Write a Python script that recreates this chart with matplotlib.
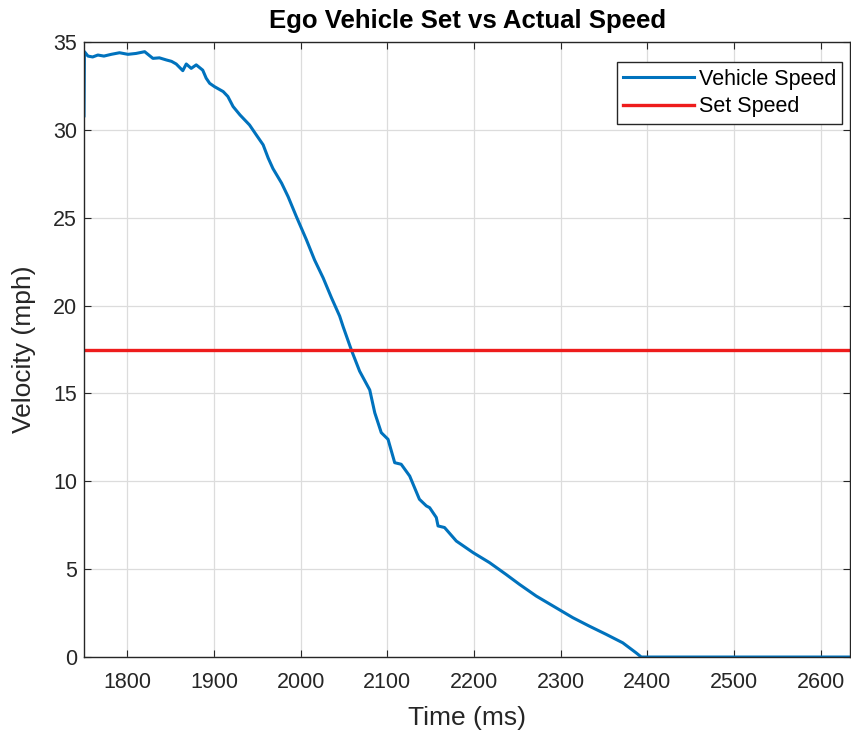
import matplotlib.pyplot as plt

plt.rcParams['font.family'] = ['Liberation Sans', 'DejaVu Sans']

# time (ms) and vehicle speed (mph)
time_ms = [1750, 1750.5, 1754.6, 1760, 1766, 1773, 1781.5, 1791, 1800.7, 1810,
           1820, 1829.5, 1837, 1845, 1851, 1856.4, 1864, 1868, 1873.7, 1879.5,
           1887, 1891, 1895, 1900.6, 1910.6, 1916, 1922, 1930, 1941, 1949,
           1956.7, 1962.5, 1968, 1978, 1985.5, 1995, 2006.6, 2016, 2026, 2035.5,
           2045, 2049, 2058.6, 2068, 2079.7, 2085.5, 2093, 2100.8, 2108.5, 2116,
           2125.8, 2137, 2145, 2148.8, 2156.5, 2158.5, 2166, 2179.6, 2199, 2218,
           2237, 2252.6, 2271.8, 2294.8, 2314, 2333, 2352.5, 2371.6, 2387, 2393,
           2450, 2500, 2550, 2600, 2634]
speed_mph = [30.8, 34.45, 34.2, 34.15, 34.26, 34.2, 34.3, 34.39, 34.3, 34.35,
             34.45, 34.07, 34.1, 33.98, 33.9, 33.75, 33.37, 33.75, 33.5, 33.7,
             33.4, 32.94, 32.65, 32.46, 32.18, 31.9, 31.33, 30.85, 30.28, 29.7,
             29.15, 28.4, 27.8, 26.97, 26.2, 25.07, 23.75, 22.6, 21.57, 20.45,
             19.4, 18.8, 17.46, 16.27, 15.2, 13.9, 12.77, 12.39, 11.06, 10.97,
             10.3, 8.98, 8.6, 8.5, 7.94, 7.46, 7.37, 6.6, 5.94, 5.37,
             4.7, 4.13, 3.47, 2.8, 2.24, 1.76, 1.29, 0.81, 0.24, 0.0,
             0.0, 0.0, 0.0, 0.0, 0.0]
set_speed = 17.5

x_ticks = [1800, 1900, 2000, 2100, 2200, 2300, 2400, 2500, 2600]
y_ticks = [0, 5, 10, 15, 20, 25, 30, 35]

fig = plt.figure(figsize=(8.51, 7.36), dpi=100)
ax = fig.add_axes([0.0987, 0.1073, 0.9003, 0.8356])

ax.plot(time_ms, speed_mph, color='#0072BD', linewidth=2.2, label='Vehicle Speed')
ax.axhline(set_speed, color='#EE1C1C', linewidth=2.4, label='Set Speed')

ax.set_xlim(1750, 2634)
ax.set_ylim(0, 35)
ax.set_xticks(x_ticks)
ax.set_yticks(y_ticks)

ax.grid(True, color='#DCDCDC', linewidth=0.9)
ax.set_axisbelow(True)
ax.tick_params(direction='in', top=True, right=True, length=5,
               labelsize=15.5, colors='#262626')
ax.tick_params(axis='x', pad=11)
ax.tick_params(axis='y', pad=5)
for s in ax.spines.values():
    s.set_color('#262626')
    s.set_linewidth(1.0)

ax.set_title('Ego Vehicle Set vs Actual Speed', fontsize=18.5, weight='bold', pad=10)
ax.set_xlabel('Time (ms)', fontsize=19, color='#262626')
ax.set_ylabel('Velocity (mph)', fontsize=19, color='#262626')
ax.xaxis.set_label_coords(0.5, -0.08)
ax.yaxis.set_label_coords(-0.062, 0.5)

leg = ax.legend(loc='upper right', fontsize=15.5, fancybox=False, framealpha=1,
                edgecolor='#262626', handlelength=3.3, handletextpad=0.2,
                borderpad=0.3, labelspacing=0.3, borderaxespad=0,
                bbox_to_anchor=(0.99, 0.967))
leg.get_frame().set_linewidth(1.0)

plt.savefig('out.png', dpi=100)
